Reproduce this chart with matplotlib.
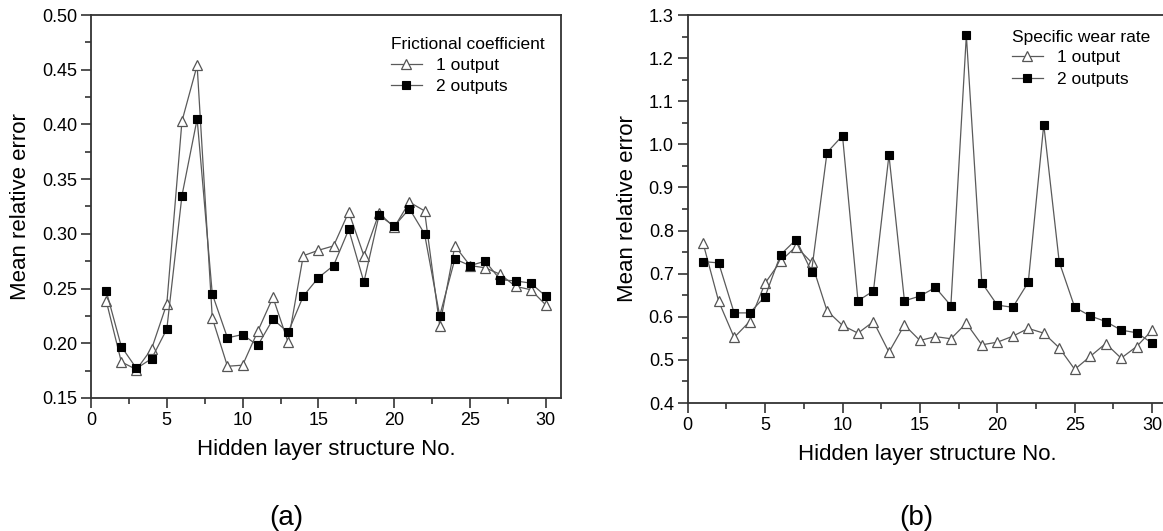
import matplotlib
matplotlib.use("Agg")
import matplotlib.pyplot as plt
from matplotlib.ticker import MultipleLocator, FormatStrFormatter

plt.rcParams['font.family'] = ['Liberation Sans', 'DejaVu Sans']

structure_no = list(range(1, 31))

# (a) Frictional coefficient
fric_1_output = [0.239, 0.183, 0.176, 0.195, 0.236, 0.403, 0.454, 0.223, 0.179, 0.180,
                 0.211, 0.242, 0.201, 0.280, 0.285, 0.289, 0.320, 0.280, 0.319, 0.306,
                 0.329, 0.321, 0.216, 0.289, 0.271, 0.269, 0.263, 0.252, 0.249, 0.235]
fric_2_outputs = [0.248, 0.197, 0.177, 0.186, 0.213, 0.335, 0.405, 0.245, 0.205, 0.208,
                  0.198, 0.222, 0.210, 0.243, 0.260, 0.271, 0.304, 0.256, 0.317, 0.307,
                  0.323, 0.300, 0.225, 0.277, 0.271, 0.275, 0.258, 0.257, 0.255, 0.243]

# (b) Specific wear rate
wear_1_output = [0.770, 0.636, 0.552, 0.589, 0.678, 0.729, 0.763, 0.726, 0.614, 0.580,
                 0.562, 0.589, 0.518, 0.581, 0.545, 0.554, 0.549, 0.585, 0.535, 0.541,
                 0.555, 0.573, 0.562, 0.528, 0.478, 0.508, 0.538, 0.504, 0.531, 0.569]
wear_2_outputs = [0.728, 0.725, 0.609, 0.609, 0.647, 0.744, 0.779, 0.705, 0.981, 1.020,
                  0.637, 0.660, 0.975, 0.637, 0.648, 0.668, 0.626, 1.253, 0.679, 0.627,
                  0.622, 0.680, 1.046, 0.727, 0.622, 0.602, 0.589, 0.569, 0.563, 0.539]

legend_titles = ["Frictional coefficient", "Specific wear rate"]
series_labels = ["1 output", "2 outputs"]
panel_labels = ["(a)", "(b)"]
xlabel = "Hidden layer structure No."
ylabel = "Mean relative error"

W, H = 1163, 531
fig = plt.figure(figsize=(W / 100, H / 100), dpi=100)

def px_axes(x0, y0, x1, y1):
    return fig.add_axes([x0 / W, 1 - y1 / H, (x1 - x0) / W, (y1 - y0) / H])

ax_a = px_axes(91, 15, 561, 398)
ax_b = px_axes(687.7, 15, 1167.6, 403)

line_color = '#5a5a5a'
spine_color = '#333333'

def style(ax, ylim, ymajor, fmt):
    ax.set_xlim(0, 31.0)
    ax.set_ylim(*ylim)
    ax.xaxis.set_major_locator(MultipleLocator(5))
    ax.xaxis.set_minor_locator(MultipleLocator(2.5))
    ax.yaxis.set_major_locator(MultipleLocator(ymajor))
    ax.yaxis.set_minor_locator(MultipleLocator(ymajor / 2))
    ax.yaxis.set_major_formatter(FormatStrFormatter(fmt))
    for s in ax.spines.values():
        s.set_color(spine_color)
        s.set_linewidth(1.3)
    ax.tick_params(which='both', direction='out', color=spine_color, width=1.2,
                   labelsize=13, top=False, right=False)
    ax.tick_params(which='major', length=7, pad=3)
    ax.tick_params(which='minor', length=4)
    ax.set_xlabel(xlabel, fontsize=16, labelpad=7)
    ax.set_ylabel(ylabel, fontsize=16, labelpad=8)

def draw(ax, s1, s2, title, lx, ly):
    ax.plot(structure_no, s1, color=line_color, lw=0.9, marker='^', markersize=7.5,
            markerfacecolor='white', markeredgecolor='#555555', markeredgewidth=0.9,
            label=series_labels[0])
    ax.plot(structure_no, s2, color=line_color, lw=0.9, marker='s', markersize=5.5,
            markerfacecolor='black', markeredgecolor='black', markeredgewidth=0.8,
            label=series_labels[1])
    leg = ax.legend(loc='upper left', bbox_to_anchor=(lx, ly), frameon=False,
                    title=title, alignment='left', fontsize=12.5, title_fontsize=12.5,
                    handlelength=1.8, handletextpad=0.8, labelspacing=0.35,
                    borderpad=0, borderaxespad=0)
    leg._legend_box.sep = 4

style(ax_a, (0.15, 0.50), 0.05, '%.2f')
style(ax_b, (0.4, 1.3), 0.1, '%.1f')
draw(ax_a, fric_1_output, fric_2_outputs, legend_titles[0], 0.638, 0.942)
draw(ax_b, wear_1_output, wear_2_outputs, legend_titles[1], 0.675, 0.962)

fig.text(286 / W, 1 - 518 / H, panel_labels[0], fontsize=20, ha='center', va='center')
fig.text(916 / W, 1 - 518 / H, panel_labels[1], fontsize=20, ha='center', va='center')

fig.savefig('out.png', dpi=100)
